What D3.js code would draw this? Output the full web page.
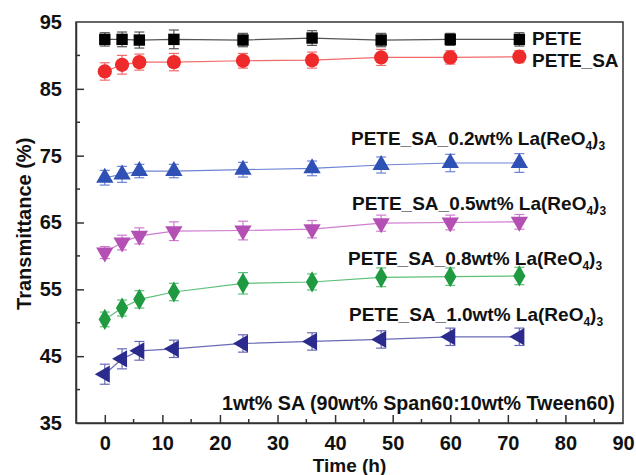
<!DOCTYPE html>
<html>
<head>
<meta charset="utf-8">
<script src="https://cdn.jsdelivr.net/npm/d3@7"></script>
<style>
  body { margin: 0; background: #fff; }
  text { font-family: Arial, "Liberation Sans", sans-serif; font-weight: bold; }
</style>
</head>
<body>
<svg id="chart"></svg>
<script>

// sampling times (h)
var times = [0, 3, 6, 12, 24, 36, 48, 60, 72]

// transmittance values (%)
var pete    = [92.4, 92.4, 92.3, 92.4, 92.3, 92.6, 92.3, 92.4, 92.4]
var peteSA  = [87.6, 88.6, 89.0, 89.0, 89.2, 89.3, 89.7, 89.7, 89.8]
var la02    = [71.7, 72.2, 72.7, 72.7, 72.9, 73.1, 73.6, 73.9, 73.9]
var la05    = [60.5, 62.0, 63.0, 63.7, 63.8, 64.0, 64.9, 65.0, 65.1]
var la08    = [50.5, 52.2, 53.5, 54.6, 55.9, 56.1, 56.8, 56.9, 57.0]
var la10    = [42.3, 44.6, 45.8, 46.1, 46.9, 47.2, 47.5, 47.9, 47.9]

// error bars (±)
var petErr   = [1.0, 1.1, 1.2, 1.4, 1.0, 1.1, 1.0, 0.9, 1.0]
var peteSAErr = [1.3, 1.4, 1.2, 1.3, 1.1, 1.2, 1.2, 1.0, 0.9]
var la02Err  = [1.1, 1.2, 1.0, 1.0, 1.1, 1.1, 1.2, 1.3, 1.4]
var la05Err  = [0.9, 1.1, 1.2, 1.4, 1.4, 1.3, 1.2, 1.1, 1.1]
var la08Err  = [1.1, 1.2, 1.3, 1.3, 1.6, 1.2, 1.4, 1.3, 1.3]
var la10Err  = [1.5, 1.5, 1.4, 1.3, 1.3, 1.3, 1.3, 1.3, 1.3]

var xTicks = [0, 10, 20, 30, 40, 50, 60, 70, 80, 90]
var yTicks = [35, 45, 55, 65, 75, 85, 95]

var width = 636, height = 475
var margin = {top: 22, right: 13, bottom: 52, left: 76}

var series = [
    {name: "PETE",    values: pete,   err: petErr,    color: "#000000", line: "#555555", symbol: d3.symbolSquare,   size: 130, rot: 0},
    {name: "PETE_SA", values: peteSA, err: peteSAErr, color: "#ee2a2a", line: "#f26a6a", symbol: d3.symbolCircle,   size: 160, rot: 0},
    {name: "0.2",     values: la02,   err: la02Err,   color: "#2f50b4", line: "#6d84d4", symbol: d3.symbolTriangle, size: 130, rot: 0},
    {name: "0.5",     values: la05,   err: la05Err,   color: "#b44fb4", line: "#cf7ccf", symbol: d3.symbolTriangle, size: 130, rot: 180},
    {name: "0.8",     values: la08,   err: la08Err,   color: "#1f9a40", line: "#5ec078", symbol: d3.symbolDiamond,  size: 130, rot: 0},
    {name: "1.0",     values: la10,   err: la10Err,   color: "#2b2b8e", line: "#6a6ab8", symbol: d3.symbolTriangle, size: 130, rot: -90}
]

var svg = d3.select("#chart")
    .attr("width", width)
    .attr("height", height)

var xScale = d3.scaleLinear()
    .domain([-5, 90])
    .range([margin.left, width - margin.right])

var yScale = d3.scaleLinear()
    .domain([35, 95])
    .range([height - margin.bottom, margin.top])

var axisColor = "#333"

// frame
svg.append("rect")
    .attr("x", margin.left)
    .attr("y", margin.top)
    .attr("width", width - margin.left - margin.right)
    .attr("height", height - margin.top - margin.bottom)
    .attr("fill", "none")
    .attr("stroke", axisColor)
    .attr("stroke-width", 1.5)

// x axis: major ticks inward, minor ticks in between
var xAxis = d3.axisBottom(xScale)
    .tickValues(xTicks)
    .tickSizeInner(-8)
    .tickSizeOuter(0)
    .tickPadding(13)

var gx = svg.append("g")
    .attr("transform", "translate(0," + (height - margin.bottom) + ")")
    .call(xAxis)

gx.selectAll(".tick").filter(function(d) { return d > 85 }).select("line").remove()

gx.selectAll(".minor")
    .data(d3.range(5, 90, 10))
    .enter().append("line")
    .attr("x1", function(d) { return xScale(d) })
    .attr("x2", function(d) { return xScale(d) })
    .attr("y1", 0)
    .attr("y2", -4)
    .attr("stroke", axisColor)
    .attr("stroke-width", 1.5)

// y axis
var yAxis = d3.axisLeft(yScale)
    .tickValues(yTicks)
    .tickSizeInner(-8)
    .tickSizeOuter(0)
    .tickPadding(14)

var gy = svg.append("g")
    .attr("transform", "translate(" + margin.left + ",0)")
    .call(yAxis)

gy.selectAll(".tick").filter(function(d) { return d == 35 || d == 95 }).select("line").remove()

gy.selectAll(".minor")
    .data(d3.range(40, 95, 10))
    .enter().append("line")
    .attr("x1", 0)
    .attr("x2", 4)
    .attr("y1", function(d) { return yScale(d) })
    .attr("y2", function(d) { return yScale(d) })
    .attr("stroke", axisColor)
    .attr("stroke-width", 1.5)

svg.selectAll(".domain").attr("stroke", axisColor).attr("stroke-width", 1.5)
svg.selectAll(".tick line").attr("stroke", axisColor).attr("stroke-width", 1.5)
svg.selectAll(".tick text")
    .attr("font-size", 20)
    .attr("font-weight", "bold")
    .attr("font-family", "Arial, 'Liberation Sans', sans-serif")
    .attr("fill", "#111")

// axis titles
svg.append("text")
    .attr("x", xScale(42.5))
    .attr("y", 472)
    .attr("text-anchor", "middle")
    .attr("font-size", 19)
    .attr("fill", "#111")
    .text("Time (h)")

svg.append("text")
    .attr("transform", "translate(31," + yScale(64.8) + ") rotate(-90)")
    .attr("text-anchor", "middle")
    .attr("font-size", 20)
    .attr("fill", "#111")
    .text("Transmittance (%)")

// series
var line = d3.line()
    .x(function(d, i) { return xScale(times[i]) })
    .y(function(d) { return yScale(d) })

series.forEach(function(s) {
    var g = svg.append("g")

    g.append("path")
        .datum(s.values)
        .attr("d", line)
        .attr("fill", "none")
        .attr("stroke", s.line)
        .attr("stroke-width", 1.2)

    var eb = g.selectAll(".err")
        .data(s.values)
        .enter().append("g")

    eb.append("line")
        .attr("x1", function(d, i) { return xScale(times[i]) })
        .attr("x2", function(d, i) { return xScale(times[i]) })
        .attr("y1", function(d, i) { return yScale(d - s.err[i]) })
        .attr("y2", function(d, i) { return yScale(d + s.err[i]) })
        .attr("stroke", s.line)
        .attr("stroke-width", 1.2)

    ;[-1, 1].forEach(function(sign) {
        eb.append("line")
            .attr("x1", function(d, i) { return xScale(times[i]) - 5 })
            .attr("x2", function(d, i) { return xScale(times[i]) + 5 })
            .attr("y1", function(d, i) { return yScale(d + sign * s.err[i]) })
            .attr("y2", function(d, i) { return yScale(d + sign * s.err[i]) })
            .attr("stroke", s.line)
            .attr("stroke-width", 1.2)
    })

    g.selectAll(".pt")
        .data(s.values)
        .enter().append("path")
        .attr("d", d3.symbol().type(s.symbol).size(s.size))
        .attr("transform", function(d, i) {
            return "translate(" + xScale(times[i]) + "," + yScale(d) + ") rotate(" + s.rot + ")"
        })
        .attr("fill", s.color)
})

// labels
function laLabel(x, y, conc) {
    var t = svg.append("text")
        .attr("x", x)
        .attr("y", y)
        .attr("font-size", 19)
        .attr("fill", "#111")
    t.append("tspan").text("PETE_SA_" + conc + "wt% La(ReO")
    t.append("tspan").attr("font-size", 12).attr("dy", 5).text("4")
    t.append("tspan").attr("dy", -5).text(")")
    t.append("tspan").attr("font-size", 12).attr("dy", 5).text("3")
}

svg.append("text").attr("x", 532).attr("y", 45).attr("font-size", 19).attr("fill", "#111").text("PETE")
svg.append("text").attr("x", 532).attr("y", 67).attr("font-size", 19).attr("fill", "#111").text("PETE_SA")
laLabel(351, 145, "0.2")
laLabel(352, 210, "0.5")
laLabel(348, 265, "0.8")
laLabel(349, 321, "1.0")

svg.append("text")
    .attr("x", 222)
    .attr("y", 410)
    .attr("font-size", 19.7)
    .attr("fill", "#111")
    .text("1wt% SA (90wt% Span60:10wt% Tween60)")

</script>
</body>
</html>
